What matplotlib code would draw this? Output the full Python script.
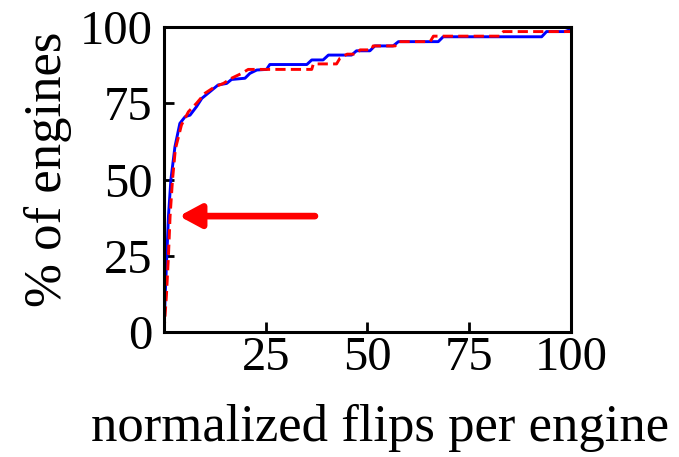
import matplotlib.pyplot as plt

# --- datos --- #
flips_azul = [0, 0.3, 0.7, 1.1, 1.7, 2.7, 3.9, 5.2, 6.4, 8.0, 9.3, 11.3, 13.3, 15.4, 16.6,
              19.9, 21.1, 22.8, 25.2, 26.0, 35.1, 36.3, 39.1, 40.4, 46.1, 47.3, 50.6, 51.8,
              56.3, 57.6, 67.4, 68.6, 92.8, 94.0, 98.5, 100]
pct_azul = [0, 12, 25, 38, 50, 60.8, 68.4, 70.6, 71.1, 73.9, 76.6, 78.8, 81.0, 81.5, 82.8,
            83.2, 84.8, 85.9, 86.1, 87.7, 87.7, 89.2, 89.2, 90.8, 90.8, 92.2, 92.2, 93.8,
            93.8, 95.2, 95.2, 96.8, 96.8, 98.5, 98.5, 99.2]

flips_rojo = [0, 0.6, 1.1, 1.5, 2.1, 2.8, 4.3, 6.0, 8.0, 10.1, 12.5, 14.6, 16.6, 19.1, 20.7,
              36.3, 36.7, 42.4, 43.2, 45.0, 47.2, 48.2, 51.0, 51.4, 56.8, 57.6, 65.4, 66.2,
              82.6, 83.4, 100]
pct_rojo = [0, 12, 25, 38, 50, 60, 67.9, 72.2, 75.0, 78.3, 80.4, 81.5, 83.2, 84.8, 86.1,
            86.1, 87.9, 87.9, 89.7, 91.1, 91.1, 92.5, 92.5, 93.8, 93.8, 95.2, 95.2, 97.0,
            97.0, 98.5, 98.5]

ticks_x = [25, 50, 75, 100]
ticks_y = [0, 25, 50, 75, 100]
flecha_ini = (37.1, 38.0)  # cola de la flecha
flecha_fin = (3.7, 38.0)   # punta de la flecha

# --------------------------------- #

plt.rcParams['font.family'] = ['Liberation Serif', 'DejaVu Serif']

fig = plt.figure(figsize=(6.79, 4.57), dpi=100)
ax = fig.add_axes([0.2415, 0.2735, 0.5994, 0.6674])

ax.plot(flips_azul, pct_azul, color="blue", lw=2.1)
ax.plot(flips_rojo, pct_rojo, "--", color="red", lw=2.1, dashes=(3.5, 1.8))

ax.annotate("", xy=flecha_fin, xytext=flecha_ini,
            arrowprops=dict(arrowstyle="-|>,head_length=1.3,head_width=0.7",
                            color="red", lw=4.8, shrinkA=0, shrinkB=0))

ax.set_xlim(0, 100)
ax.set_ylim(0, 100)
ax.set_xticks(ticks_x)
ax.set_yticks(ticks_y)
ax.tick_params(direction="in", length=7, width=2, labelsize=35, colors="black")
ax.tick_params(axis="y", pad=8)
ax.tick_params(axis="x", pad=3)
for s in ax.spines.values():
    s.set_linewidth(2.2)

ax.set_xlabel("normalized flips per engine", fontsize=38)
ax.xaxis.set_label_coords(0.532, -0.235)
ax.set_ylabel("% of engines", fontsize=38)
ax.yaxis.set_label_coords(-0.225, 0.534)

fig.savefig("out.png", dpi=100)
